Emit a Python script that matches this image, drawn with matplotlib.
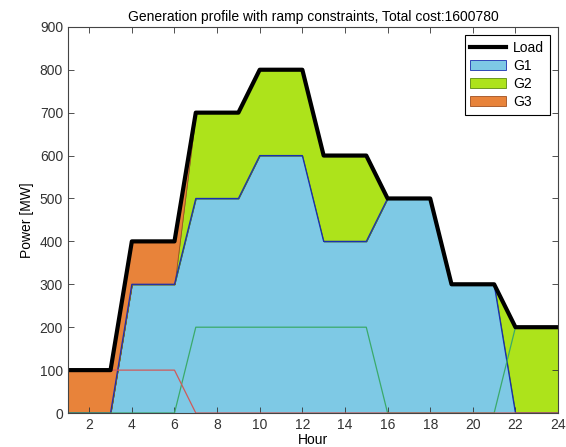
import numpy as np
import matplotlib.pyplot as plt

plt.rcParams["font.family"] = ["Liberation Sans", "DejaVu Sans"]
plt.rcParams["font.size"] = 10

hours = np.arange(1, 25)
load = [100, 100, 100, 400, 400, 400, 700, 700, 700, 800, 800, 800,
        600, 600, 600, 500, 500, 500, 300, 300, 300, 200, 200, 200]
g1 = [0, 0, 0, 300, 300, 300, 500, 500, 500, 600, 600, 600,
      400, 400, 400, 500, 500, 500, 300, 300, 300, 0, 0, 0]
g2 = [0, 0, 0, 0, 0, 0, 200, 200, 200, 200, 200, 200,
      200, 200, 200, 0, 0, 0, 0, 0, 0, 200, 200, 200]
g3 = [100, 100, 100, 100, 100, 100, 0, 0, 0, 0, 0, 0,
      0, 0, 0, 0, 0, 0, 0, 0, 0, 0, 0, 0]

fill_cols = ["#7ec9e5", "#ade31b", "#e8833a"]
edge_cols = ["#1a2fb0", "#5a8a10", "#a05020"]
line_cols = ["#1a2fb0", "#3aaa6a", "#d05a5a"]

fig = plt.figure(figsize=(5.66, 4.47), dpi=100)
ax = fig.add_axes([0.120, 0.076, 0.866, 0.864])

g1a, g2a, g3a = np.array(g1), np.array(g2), np.array(g3)
lower = [np.zeros(24), g1a, g1a + g2a]
upper = [g1a, g1a + g2a, g1a + g2a + g3a]
patches = []
for lo, hi, fc, ec, name in zip(lower, upper, fill_cols, edge_cols, ["G1", "G2", "G3"]):
    p = ax.fill_between(hours, lo, hi, facecolor=fc, edgecolor=ec, lw=0.6, label=name)
    patches.append(p)

for vals, c in zip([g1, g2, g3], line_cols):
    ax.plot(hours, vals, color=c, lw=0.9)

ld, = ax.plot(hours, load, color="black", lw=3, label="Load")

ax.set_xlim(1, 24)
ax.set_ylim(0, 900)
ax.set_xticks(range(2, 25, 2))
ax.set_yticks(range(0, 901, 100))
ax.tick_params(direction="in", top=True, right=True, length=4, width=0.6, colors="#333333")
for s in ax.spines.values():
    s.set_color("#444444")
    s.set_linewidth(0.8)

ax.set_title("Generation profile with ramp constraints, Total cost:1600780", fontsize=10, pad=4)
ax.set_xlabel("Hour", labelpad=1)
ax.set_ylabel("Power [MW]", labelpad=4)

leg = ax.legend([ld] + patches, ["Load", "G1", "G2", "G3"], loc="upper right",
                fancybox=False, framealpha=1, edgecolor="black", borderaxespad=0.6,
                handlelength=2.6, handletextpad=0.5, labelspacing=0.3, borderpad=0.4)
leg.get_frame().set_linewidth(0.8)

plt.savefig("out.png", dpi=100)
plt.close()
